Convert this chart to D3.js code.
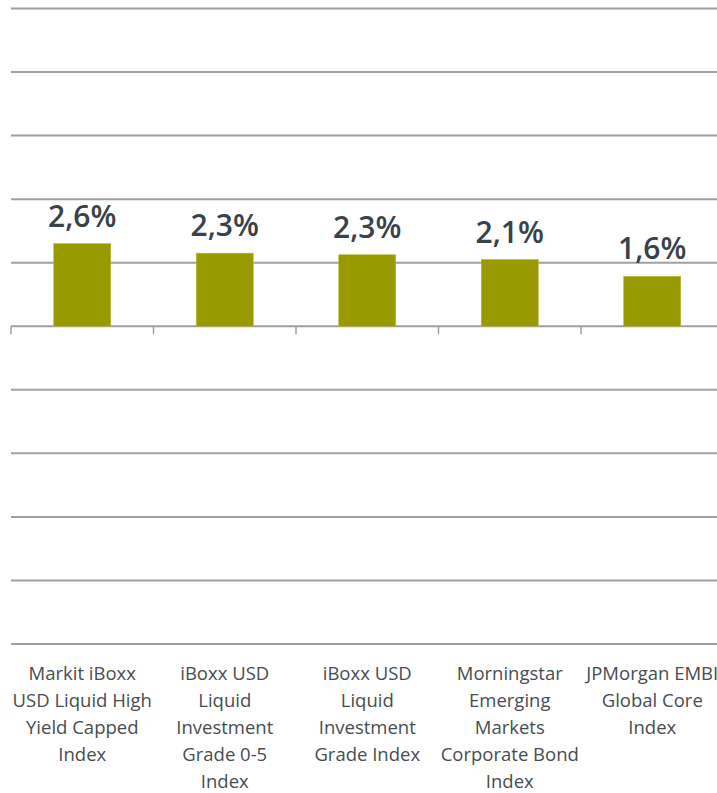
<!DOCTYPE html>
<html>
<head>
<meta charset="utf-8">
<script src="https://cdn.jsdelivr.net/npm/d3@7"></script>
<style>
  html, body { margin: 0; padding: 0; background: #fff; }
  svg { display: block; font-family: "Open Sans", sans-serif; }
</style>
</head>
<body>
<div id="chart"></div>
<script>
// categories (line breaks as in the original) and values in %
const categories = [
    "Markit iBoxx\nUSD Liquid High\nYield Capped\nIndex",
    "iBoxx USD\nLiquid\nInvestment\nGrade 0-5\nIndex",
    "iBoxx USD\nLiquid\nInvestment\nGrade Index",
    "Morningstar\nEmerging\nMarkets\nCorporate Bond\nIndex",
    "JPMorgan EMBI\nGlobal Core\nIndex"
];
const values = [2.6, 2.3, 2.25, 2.1, 1.57];
const valueLabels = ["2,6%", "2,3%", "2,3%", "2,1%", "1,6%"];
const gridTicks = [-10, -8, -6, -4, -2, 0, 2, 4, 6, 8, 10];

const width = 717;
const height = 793;

const svg = d3.select('#chart')
    .append("svg")
    .attr("width", width)
    .attr("height", height);

const x = d3.scaleBand()
    .domain(categories)
    .range([11, 11 + 142.5 * categories.length])
    .paddingInner(0.6)
    .paddingOuter(0.3);

const y = d3.scaleLinear()
    .domain([-10, 10])
    .range([644, 8.5]);

// gridlines
svg.append("g")
    .attr("stroke", "#a0a0a0")
    .attr("stroke-width", 2)
  .selectAll()
    .data(gridTicks)
    .join("line")
    .attr("x1", 11)
    .attr("x2", width)
    .attr("y1", d => y(d))
    .attr("y2", d => y(d));

// category ticks on the zero line
const step = x.step();
svg.append("g")
    .attr("stroke", "#a0a0a0")
    .attr("stroke-width", 1.5)
  .selectAll()
    .data(categories)
    .join("line")
    .attr("x1", d => x(d) - x.paddingOuter() * step)
    .attr("x2", d => x(d) - x.paddingOuter() * step)
    .attr("y1", y(0))
    .attr("y2", y(0) + 8);

// bars
svg.append("g")
  .selectAll()
    .data(values)
    .join("rect")
    .attr("x", (d, i) => x(categories[i]))
    .attr("width", x.bandwidth())
    .attr("y", d => y(d))
    .attr("height", d => y(0) - y(d))
    .attr("fill", "#999900")
    .attr("stroke", "#b8b640")
    .attr("stroke-width", 0.6);

// value labels
svg.append("g")
    .attr("fill", "#38424a")
    .attr("font-size", 30)
    .attr("font-weight", 600)
    .attr("text-anchor", "middle")
  .selectAll()
    .data(values)
    .join("text")
    .attr("x", (d, i) => x(categories[i]) + x.bandwidth() / 2)
    .attr("y", d => y(d) - 17)
    .text((d, i) => valueLabels[i]);

// category labels
const lab = svg.append("g")
    .attr("fill", "#474d52")
    .attr("font-size", 18.5)
    .attr("text-anchor", "middle")
  .selectAll()
    .data(categories)
    .join("text")
    .attr("x", d => x(d) + x.bandwidth() / 2)
    .attr("y", 680);

lab.selectAll("tspan")
    .data(d => d.split("\n"))
    .join("tspan")
    .attr("x", function() { return this.parentNode.getAttribute("x"); })
    .attr("dy", (d, i) => i === 0 ? 0 : 27)
    .text(d => d);
</script>
</body>
</html>
